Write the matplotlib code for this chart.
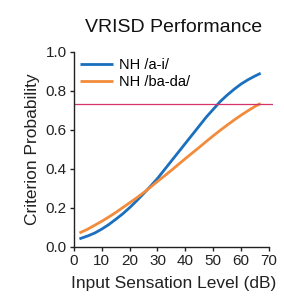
import numpy as np
import matplotlib.pyplot as plt

plt.rcParams['font.family'] = ['Liberation Sans', 'DejaVu Sans']

# Input sensation level (dB)
level_db = [2, 5, 7.5, 10, 12.5, 15, 17.5, 20, 22.5, 25, 27.5, 30, 32.5, 35,
            37.5, 40, 42.5, 45, 47.5, 50, 52.5, 55, 57.5, 60, 62.5, 65, 67]
# Criterion probability
prob_ai = [0.04, 0.055, 0.07, 0.09, 0.113, 0.14, 0.168, 0.20, 0.235, 0.272, 0.31, 0.35, 0.395, 0.44,
           0.485, 0.53, 0.575, 0.62, 0.665, 0.705, 0.745, 0.778, 0.808, 0.835, 0.857, 0.876, 0.89]
prob_bada = [0.07, 0.09, 0.11, 0.13, 0.152, 0.175, 0.20, 0.225, 0.25, 0.277, 0.305, 0.335, 0.363, 0.392,
             0.422, 0.452, 0.481, 0.51, 0.54, 0.569, 0.597, 0.624, 0.65, 0.675, 0.698, 0.72, 0.735]
criterion = 0.73

xticks = [0, 10, 20, 30, 40, 50, 60, 70]
yticks = [0.0, 0.2, 0.4, 0.6, 0.8, 1.0]

fig = plt.figure(figsize=(2.84, 3.03), dpi=100)
ax = fig.add_axes([0.26, 0.186, 0.702, 0.643])

ax.plot(level_db, prob_ai, color='#1a6fbf', lw=2.0, label='NH /a-i/', solid_capstyle='butt')
ax.plot(level_db, prob_bada, color='#f28c3c', lw=2.0, label='NH /ba-da/', solid_capstyle='butt')
ax.axhline(criterion, color='#d6336a', lw=0.9)

ax.set_xlim(0, 71.5)
ax.set_ylim(0, 1.0)
ax.set_xticks(xticks)
ax.set_yticks(yticks)
ax.set_yticklabels(['%.1f' % v for v in yticks])
ax.spines['bottom'].set_bounds(0, 70)
ax.spines['top'].set_visible(False)
ax.spines['right'].set_visible(False)
for s in ['left', 'bottom']:
    ax.spines[s].set_linewidth(1.0)
    ax.spines[s].set_color('#222222')
ax.tick_params(direction='out', length=3, width=1.0, labelsize=11, colors='#222222', pad=2)

ax.set_xlabel('Input Sensation Level (dB)', fontsize=12.5, color='#222222', labelpad=6)
ax.set_ylabel('Criterion Probability', fontsize=12.5, color='#222222', labelpad=4)
ax.set_title('VRISD Performance', fontsize=14, color='#111111', pad=14)

ax.legend(loc='upper left', frameon=False, fontsize=10.5, handlelength=2.3,
          handletextpad=0.4, labelspacing=0.25, borderaxespad=0.0,
          bbox_to_anchor=(0.0, 1.0))

fig.savefig('out.png', dpi=100)
